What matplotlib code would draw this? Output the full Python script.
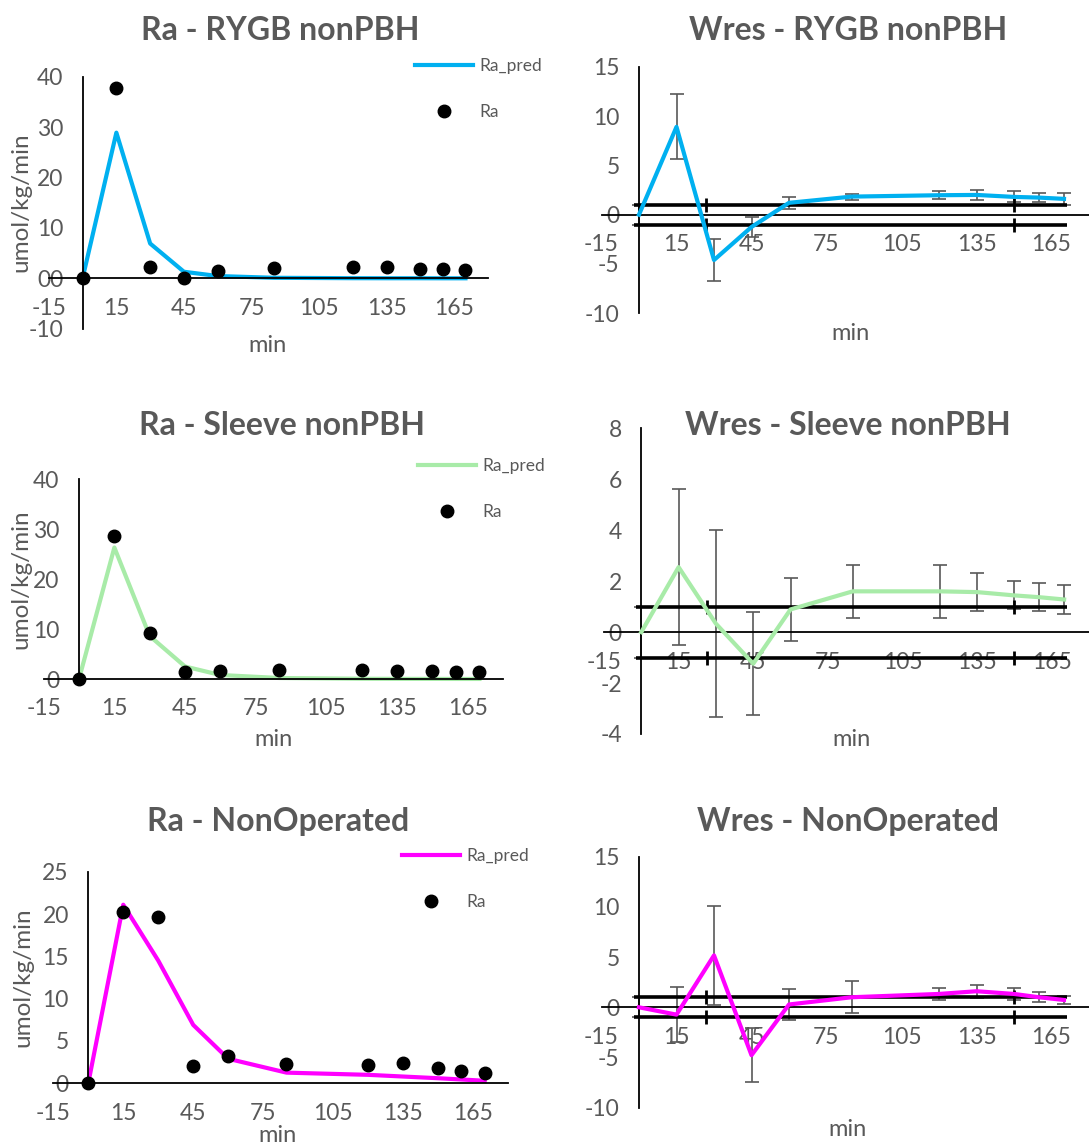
import numpy as np
import matplotlib
matplotlib.use("Agg")
import matplotlib.pyplot as plt

plt.rcParams["font.family"] = ["Lato", "DejaVu Sans"]
plt.rcParams["axes.unicode_minus"] = False
GRIS = "#595959"

# tiempos de muestreo (min)
t = [0, 15, 30, 45, 60, 85, 120, 135, 150, 160, 170]
x_ticks = [-15, 15, 45, 75, 105, 135, 165]

# RYGB nonPBH
rygb_pred = [0, 28.9, 6.9, 1.3, 0.45, 0.1, 0.02, 0.01, 0.01, 0.0, 0.0]
rygb_ra = [0, 37.8, 2.3, 0, 1.5, 2.0, 2.2, 2.2, 1.9, 1.8, 1.65]
rygb_wres = [0, 8.9, -4.6, -1.25, 1.2, 1.83, 1.97, 2.0, 1.8, 1.73, 1.6]
rygb_err = [1, 3.3, 2.15, 1.05, 0.6, 0.3, 0.4, 0.5, 0.55, 0.47, 0.6]

# Sleeve nonPBH
sleeve_pred = [0, 26.3, 8.6, 2.5, 0.8, 0.2, 0.05, 0.03, 0.02, 0.01, 0.01]
sleeve_ra = [0, 28.7, 9.3, 1.33, 1.67, 1.87, 1.8, 1.67, 1.53, 1.47, 1.33]
sleeve_wres = [0, 2.55, 0.33, -1.24, 0.89, 1.6, 1.6, 1.57, 1.44, 1.37, 1.28]
sleeve_err = [1, 3.07, 3.67, 2.02, 1.22, 1.05, 1.04, 0.75, 0.55, 0.56, 0.57]

# NonOperated
nonop_pred = [0, 21.1, 14.5, 6.9, 2.9, 1.26, 1.0, 0.8, 0.6, 0.45, 0.3]
nonop_ra = [0, 20.2, 19.7, 2.1, 3.2, 2.3, 2.2, 2.35, 1.85, 1.45, 1.2]
nonop_wres = [0, -0.73, 5.17, -4.77, 0.28, 1.0, 1.33, 1.6, 1.33, 1.0, 0.73]
nonop_err = [1, 2.73, 4.9, 2.7, 1.5, 1.6, 0.63, 0.67, 0.63, 0.5, 0.4]

# líneas de referencia +-1 en los residuos
banda_x = [-2, 171]
banda_y = [1, -1]
cruces_x = [26.6, 150]

W, H = 1089, 1145
fig = plt.figure(figsize=(W / 100, H / 100), dpi=100)


def ejes(x0, x1, ytop, ybot):
    return fig.add_axes([x0 / W, 1 - ybot / H, (x1 - x0) / W, (ybot - ytop) / H])


def en_ejes(ax, xpx, ypx):
    p = ax.get_position()
    return (xpx / W - p.x0) / p.width, ((1 - ypx / H) - p.y0) / p.height


def base(ax, ylim, yticks, ylabels=None):
    ax.set_xlim(-15, 180); ax.set_ylim(*ylim)
    for s in ["top", "right"]:
        ax.spines[s].set_visible(False)
    ax.spines["left"].set_position(("data", 0))
    ax.spines["bottom"].set_position(("data", 0))
    for s in ["left", "bottom"]:
        ax.spines[s].set_linewidth(1.3)
    ax.set_xticks(x_ticks)
    ax.set_yticks(yticks)
    if ylabels is not None:
        ax.set_yticklabels(ylabels)
    ax.tick_params(axis="both", length=0, labelsize=16.5, labelcolor=GRIS)
    ax.tick_params(axis="x", pad=14)
    ax.tick_params(axis="y", pad=14)
    ax.patch.set_alpha(0)


def titulo_y_min(ax, titulo, tit_xy, min_xy):
    fig.text(tit_xy[0] / W, 1 - tit_xy[1] / H, titulo, ha="center", va="center",
             fontsize=23, fontweight="bold", color=GRIS)
    ax.set_xlabel("min", fontsize=17, color=GRIS)
    ax.xaxis.set_label_coords(*en_ejes(ax, *min_xy))
    ax.xaxis.label.set_va("center")


def panel_ra(ax, pred, ra, color, titulo, ylim, yticks, ylabels, leg_xy, tit_xy, min_xy, ylab_xy):
    base(ax, ylim, yticks, ylabels)
    l, = ax.plot(t, pred, color=color, lw=3, clip_on=False, label="Ra_pred")
    d, = ax.plot(t, ra, "o", color="black", ms=9, clip_on=False, zorder=5, label="Ra")
    titulo_y_min(ax, titulo, tit_xy, min_xy)
    ax.set_ylabel("umol/kg/min", fontsize=17.5, color=GRIS)
    ax.yaxis.set_label_coords(*en_ejes(ax, *ylab_xy))
    ax.yaxis.label.set_va("center")
    fig.legend(handles=[l, d], loc="upper left", bbox_to_anchor=(leg_xy[0] / W, 1 - leg_xy[1] / H),
               frameon=False, borderpad=0, borderaxespad=0, fontsize=12.5, labelcolor=GRIS,
               handlelength=3.35, handletextpad=0.35, labelspacing=1.75)


def panel_wres(ax, wres, err, color, titulo, ylim, yticks, tit_xy, min_xy):
    base(ax, ylim, yticks)
    ax.errorbar(t, wres, yerr=err, fmt="none", ecolor=GRIS, elinewidth=1.2, capsize=5,
                capthick=1.2, zorder=2, clip_on=False)
    for y in banda_y:
        ax.plot(banda_x, [y, y], color="black", lw=2.6, zorder=3, solid_capstyle="butt")
        ax.plot(cruces_x, [y] * len(cruces_x), "|", color="black", ms=10, mew=2, zorder=3)
    ax.plot(t, wres, color=color, lw=3, zorder=4, clip_on=False)
    titulo_y_min(ax, titulo, tit_xy, min_xy)


# fila 1
ax1 = ejes(48.8, 488, 76.7, 328.7)
panel_ra(ax1, rygb_pred, rygb_ra, "#00B0F0", "Ra - RYGB nonPBH", (-10, 40),
         [-10, 0, 10, 20, 30, 40], ["-10", "00", "10", "20", "30", "40"], (415, 58),
         (280, 30), (268, 345), (21, 202))
ax2 = ejes(601.5, 1089, 66.7, 313.3)
panel_wres(ax2, rygb_wres, rygb_err, "#00B0F0", "Wres - RYGB nonPBH", (-10, 15),
           [-10, -5, 0, 5, 10, 15], (848, 30), (850, 333))

# fila 2
ax3 = ejes(43.7, 503, 479, 679)
panel_ra(ax3, sleeve_pred, sleeve_ra, "#A8EBA8", "Ra - Sleeve nonPBH", (0, 40),
         [0, 10, 20, 30, 40], None, (418, 458), (282, 426), (273, 740), (21, 579))
ax4 = ejes(604, 1089, 428.3, 734)
panel_wres(ax4, sleeve_wres, sleeve_err, "#A8EBA8", "Wres - Sleeve nonPBH", (-4, 8),
           [-4, -2, 0, 2, 4, 6, 8], (848, 426), (852, 740))

# fila 3
ax5 = ejes(53.3, 508, 871.7, 1083.3)
panel_ra(ax5, nonop_pred, nonop_ra, "#FF00FF", "Ra - NonOperated", (0, 25),
         [0, 5, 10, 15, 20, 25], None, (402, 848), (278, 822), (278, 1136), (23, 977))
ax6 = ejes(601.5, 1089, 856.7, 1107.7)
panel_wres(ax6, nonop_wres, nonop_err, "#FF00FF", "Wres - NonOperated", (-10, 15),
           [-10, -5, 0, 5, 10, 15], (848, 822), (848, 1130))

fig.savefig("out.png", dpi=100)
